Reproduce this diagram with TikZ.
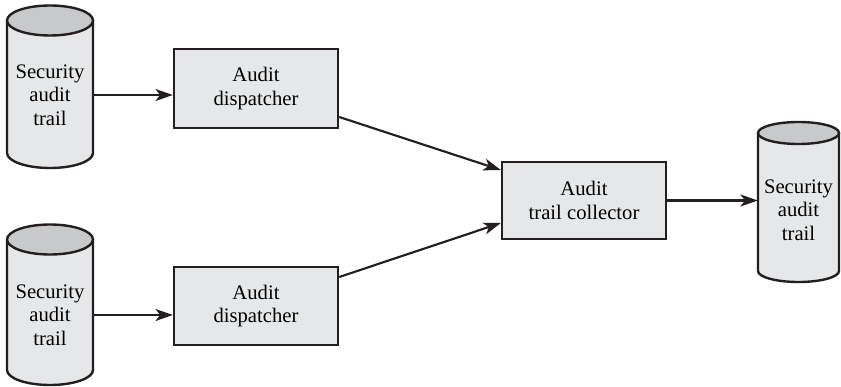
\documentclass[tikz,border=0pt]{standalone}
\usepackage{fontspec}
\setmainfont{Liberation Serif}
\newfontfamily\myserif{Liberation Serif}
\usetikzlibrary{arrows.meta,calc}
\definecolor{inkc}{HTML}{231F20}
\definecolor{bodyc}{HTML}{E6E7E8}
\definecolor{topc}{HTML}{C8C9CB}
\tikzset{
  boxnode/.style={draw=inkc,line width=1.8pt,fill=bodyc,minimum width=164*0.75pt,minimum height=78*0.75pt,inner sep=0pt,align=center,font=\myserif\fontsize{15.5}{17.5}\selectfont},
  cyltext/.style={align=center,inner sep=0pt,font=\myserif\fontsize{15.5}{17.5}\selectfont},
  flow/.style={draw=inkc,line width=1.6pt,-{Stealth[length=13pt,width=9pt,inset=3.5pt]}},
  cylline/.style={draw=inkc,line width=1.8pt}
}
\newcommand{\mycyl}[5]{% cx, rx, ytop, ybot, ry
  \fill[bodyc] (#1-#2,#3) -- (#1-#2,#4) arc[start angle=180,end angle=360,x radius=#2*0.75pt,y radius=#5*0.75pt] -- (#1+#2,#3) -- cycle;
  \draw[cylline] (#1-#2,#3) -- (#1-#2,#4) arc[start angle=180,end angle=360,x radius=#2*0.75pt,y radius=#5*0.75pt] -- (#1+#2,#3);
  \draw[cylline,fill=topc] (#1,#3) ellipse[x radius=#2*0.75pt,y radius=#5*0.75pt];
}
\begin{document}
\begin{tikzpicture}[x=0.75pt,y=0.75pt]
\useasboundingbox (0,0) rectangle (841,386);
% cylinders
\mycyl{50}{43}{365.5}{233}{15}
\mycyl{50}{43}{146.5}{16}{15}
\mycyl{798.5}{40.5}{253}{115}{11}
\node[minimum width=86*0.75pt,minimum height=132*0.75pt,inner sep=0pt] (cyl1) at (50,299.25) {};
\node[minimum width=86*0.75pt,minimum height=130*0.75pt,inner sep=0pt] (cyl2) at (50,81.25) {};
\node[minimum width=81*0.75pt,minimum height=138*0.75pt,inner sep=0pt] (cyl3) at (798.5,184) {};
\node[cyltext] (t1) at (50,291) {Security\\audit\\trail};
\node[cyltext] (t2) at (50,71) {Security\\audit\\trail};
\node[cyltext] (t3) at (798.5,176) {Security\\audit\\trail};
% boxes
\node[boxnode,minimum height=79*0.75pt] (box1) at (256,297.5) {Audit\\dispatcher};
\node[boxnode] (box2) at (256,80) {Audit\\dispatcher};
\node[boxnode,minimum height=77*0.75pt] (box3) at (584,185.5) {Audit\\trail collector};
% connectors
\draw[flow] (t1 -| cyl1.east) -- (t1 -| box1.west);
\draw[flow] (t2 -| cyl2.east) -- (t2 -| box2.west);
\draw[flow] ($(box1.east)+(0,-28.5)$) -- ($(box3.west)+(0,30.5)$);
\draw[flow] ($(box2.east)+(0,29)$) -- ($(box3.west)+(0,-22.5)$);
\draw[flow] (box3.east) -- (box3.east -| cyl3.west);
\end{tikzpicture}
\end{document}
